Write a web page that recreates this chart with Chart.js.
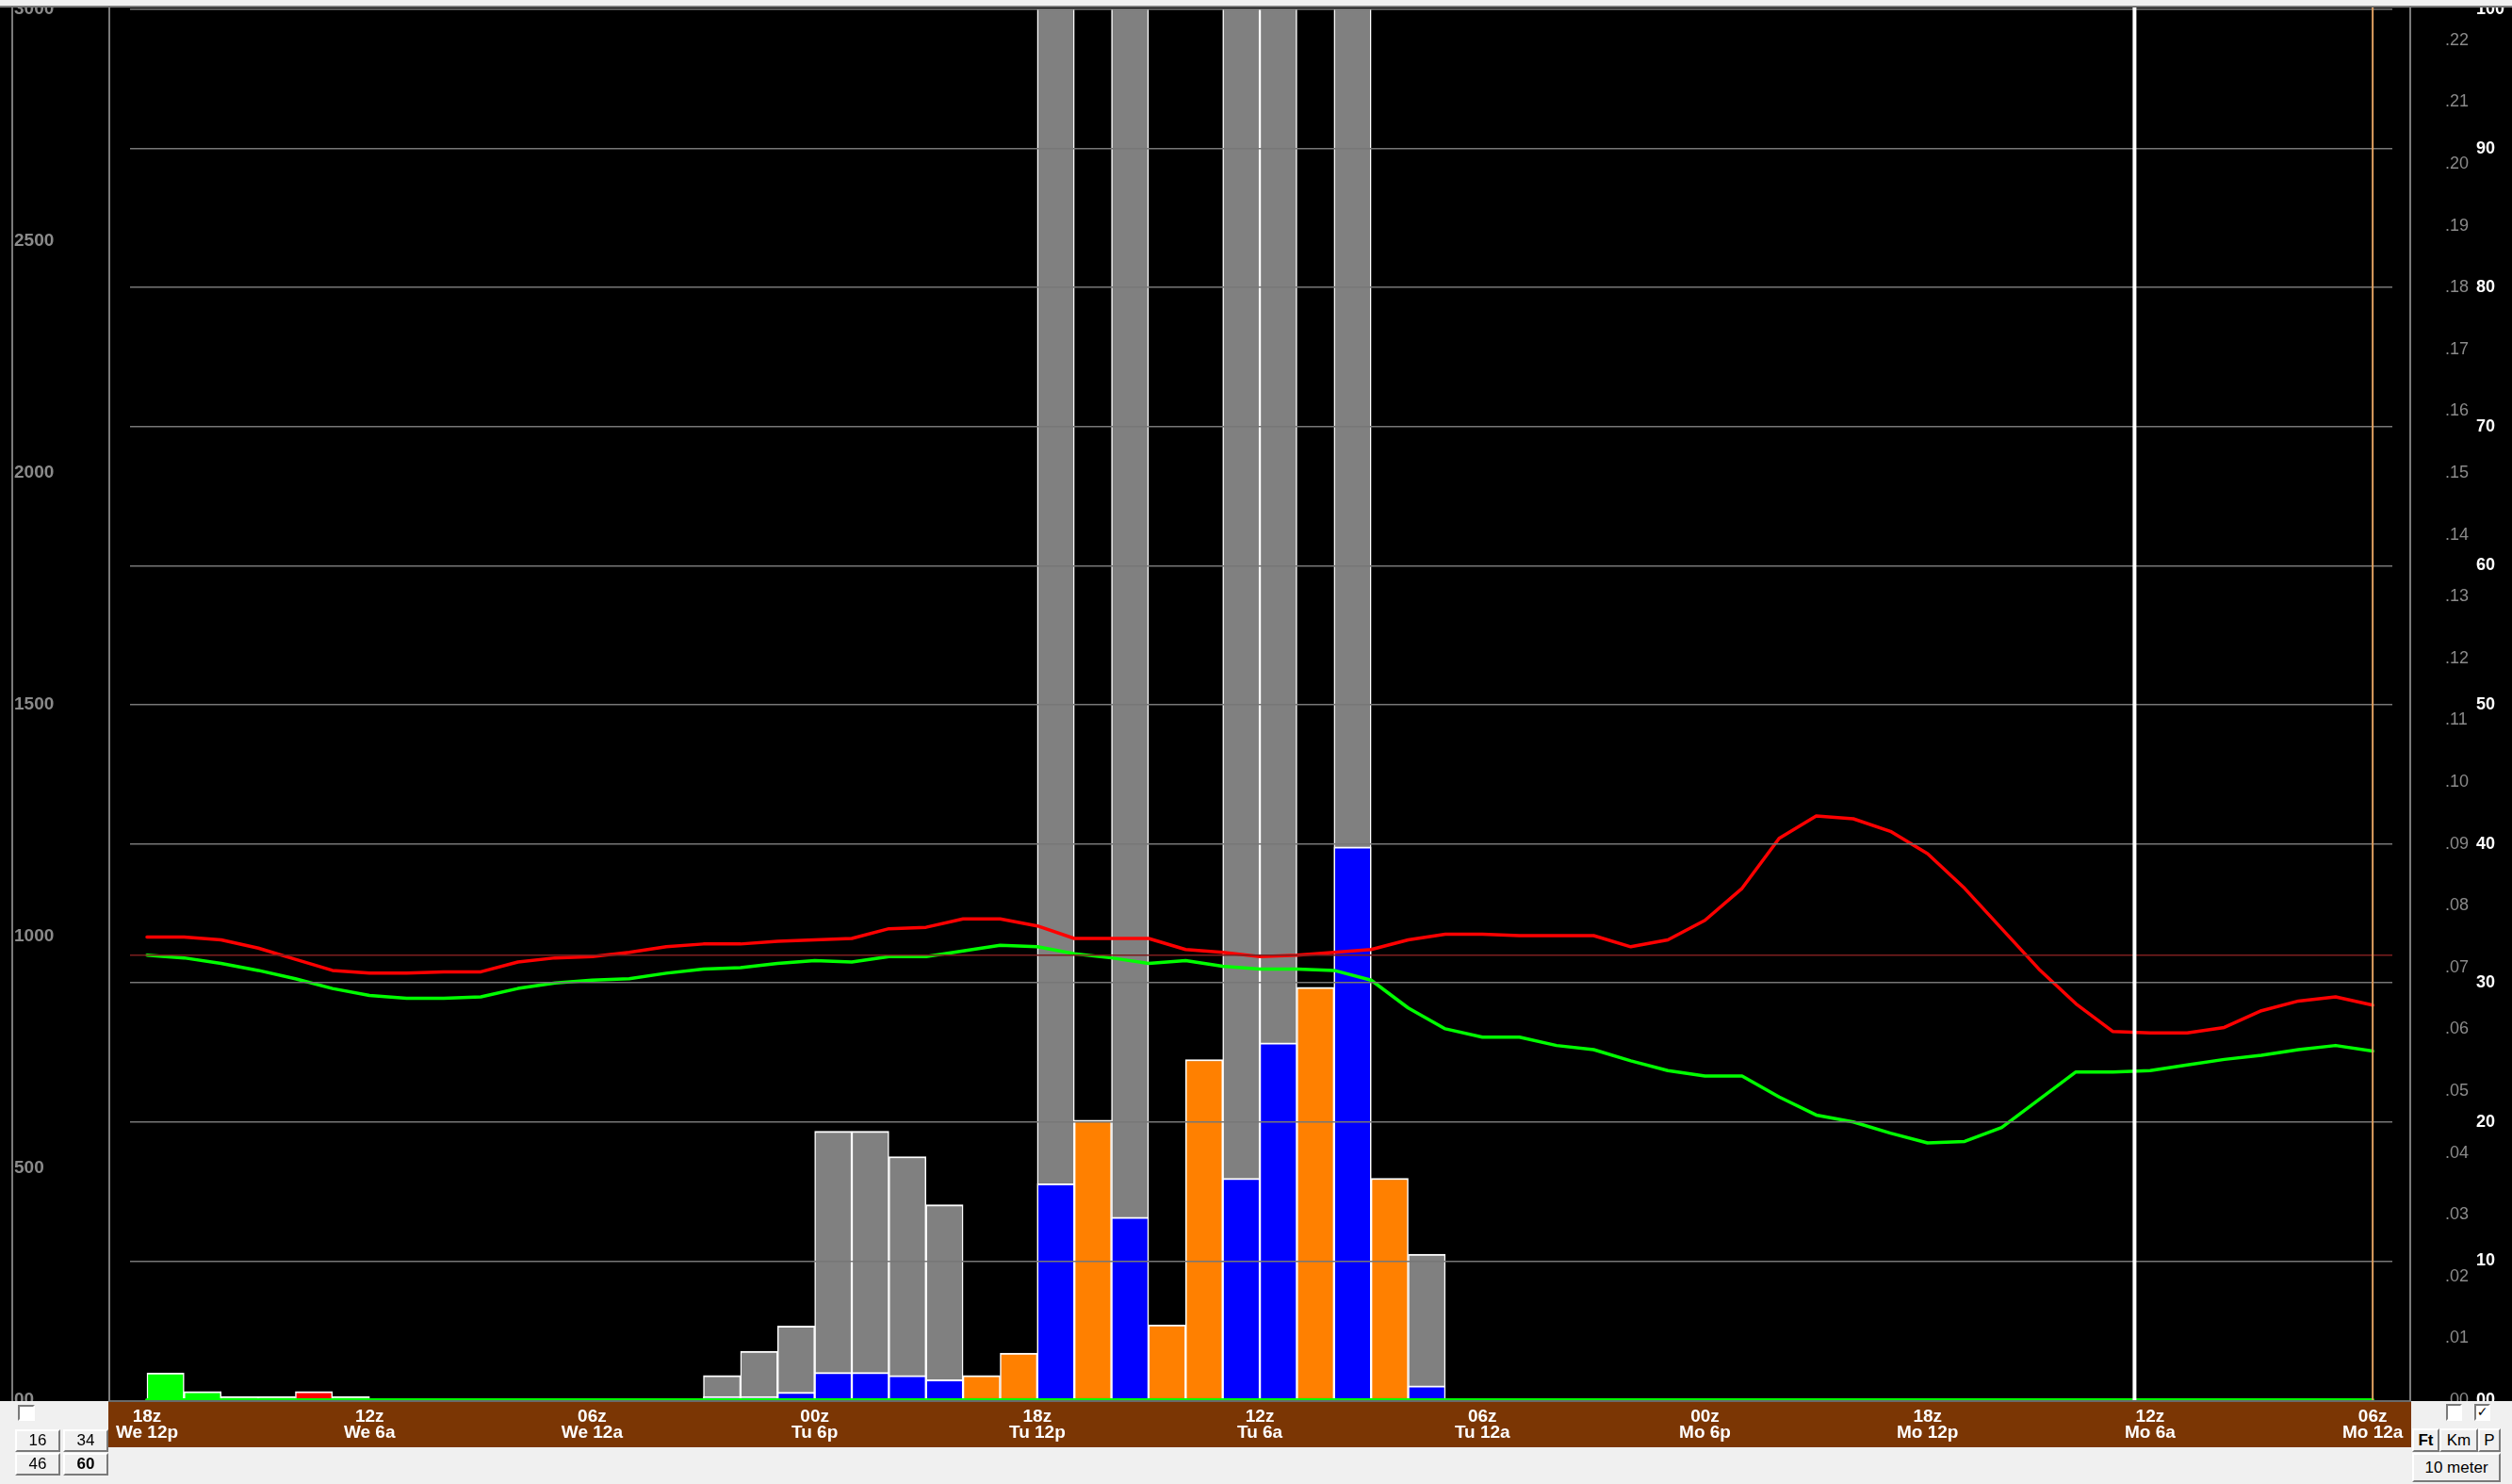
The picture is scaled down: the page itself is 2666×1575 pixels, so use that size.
<!DOCTYPE html>
<html>
<head>
<meta charset="utf-8">
<script src="https://cdn.jsdelivr.net/npm/chart.js@4.4.1/dist/chart.umd.min.js"></script>
<style>
    html, body { margin: 0; padding: 0; background: #f0f0f0; }
    #marco { position: relative; width: 2666px; height: 1575px; overflow: hidden; }
    #grafico { position: absolute; left: 0; top: 0; }
    .boton {
        position: absolute; box-sizing: border-box; background: #f0f0f0;
        border: 2px solid; border-color: #ffffff #7a7a7a #7a7a7a #ffffff;
        font-family: "Liberation Sans", Arial, sans-serif; font-size: 17px; color: #000;
        text-align: center; white-space: nowrap;
    }
    .casilla {
        position: absolute; box-sizing: border-box; background: #ffffff;
        border: 2px solid; border-color: #7a7a7a #ffffff #ffffff #7a7a7a;
        font-family: "DejaVu Sans", sans-serif; font-size: 14px; line-height: 13px; text-align: center; color: #000;
    }
</style>
</head>
<body>
<div id="marco">
    <canvas id="grafico" width="2666" height="1575"></canvas>

    <div class="casilla" style="left:19px;top:1491px;width:18px;height:17px"></div>
    <div class="boton" style="left:16px;top:1517px;width:48px;height:24px;line-height:20px">16</div>
    <div class="boton" style="left:67px;top:1517px;width:48px;height:24px;line-height:20px">34</div>
    <div class="boton" style="left:16px;top:1542px;width:48px;height:24px;line-height:20px">46</div>
    <div class="boton" style="left:67px;top:1542px;width:48px;height:24px;line-height:20px;font-weight:bold">60</div>

    <div class="casilla" style="left:2596px;top:1490px;width:17px;height:18px"></div>
    <div class="casilla" style="left:2626px;top:1490px;width:17px;height:18px">&#10003;</div>
    <div class="boton" style="left:2560px;top:1516px;width:29px;height:25px;line-height:21px;font-weight:bold">Ft</div>
    <div class="boton" style="left:2589px;top:1516px;width:41px;height:25px;line-height:21px">Km</div>
    <div class="boton" style="left:2630px;top:1516px;width:24px;height:25px;line-height:21px">P</div>
    <div class="boton" style="left:2560px;top:1542px;width:94px;height:31px;line-height:27px">10 meter</div>
</div>

<script>
// eje x: horas desde 18z We (izquierda) hasta 06z Mo (derecha)
const horasMarcas = [0, 6, 12, 18, 24, 30, 36, 42, 48, 54, 60];
const etiquetasMarcas = [
    ['18z', 'We 12p'], ['12z', 'We 6a'], ['06z', 'We 12a'], ['00z', 'Tu 6p'],
    ['18z', 'Tu 12p'], ['12z', 'Tu 6a'], ['06z', 'Tu 12a'], ['00z', 'Mo 6p'],
    ['18z', 'Mo 12p'], ['12z', 'Mo 6a'], ['06z', 'Mo 12a']
];

// lineas (escala blanca 0-100), una por hora
const temperatura = [
    33.3, 33.3, 33.1, 32.5, 31.7, 30.9, 30.7, 30.7, 30.8, 30.8,
    31.5, 31.8, 31.9, 32.2, 32.6, 32.8, 32.8, 33.0, 33.1, 33.2,
    33.9, 34.0, 34.6, 34.6, 34.1, 33.2, 33.2, 33.2, 32.4, 32.2,
    31.9, 32.0, 32.2, 32.4, 33.1, 33.5, 33.5, 33.4, 33.4, 33.4,
    32.6, 33.1, 34.5, 36.8, 40.4, 42.0, 41.8, 40.9, 39.3, 36.8,
    33.9, 31.0, 28.5, 26.5, 26.4, 26.4, 26.8, 28.0, 28.7, 29.0,
    28.4
];
const puntoRocio = [
    32.0, 31.8, 31.4, 30.9, 30.3, 29.6, 29.1, 28.9, 28.9, 29.0,
    29.6, 30.0, 30.2, 30.3, 30.7, 31.0, 31.1, 31.4, 31.6, 31.5,
    31.9, 31.9, 32.3, 32.7, 32.6, 32.1, 31.8, 31.4, 31.6, 31.2,
    31.0, 31.0, 30.9, 30.2, 28.2, 26.7, 26.1, 26.1, 25.5, 25.2,
    24.4, 23.7, 23.3, 23.3, 21.8, 20.5, 20.0, 19.2, 18.5, 18.6,
    19.6, 21.6, 23.6, 23.6, 23.7, 24.1, 24.5, 24.8, 25.2, 25.5,
    25.1
];
const lineaBase = [
    0, 0, 0, 0, 0, 0, 0, 0, 0, 0, 0, 0, 0, 0, 0, 0, 0, 0, 0, 0,
    0, 0, 0, 0, 0, 0, 0, 0, 0, 0, 0, 0, 0, 0, 0, 0, 0, 0, 0, 0,
    0, 0, 0, 0, 0, 0, 0, 0, 0, 0, 0, 0, 0, 0, 0, 0, 0, 0, 0, 0,
    0
];

// barras por hora (escala gris .00-.22), null = sin barra
const precipGris = [
    null, null, null, null, null, null, null, null, null, null,
    null, null, null, null, null, 0.0040, 0.0079, 0.0120, 0.0435, 0.0435,
    0.0394, 0.0316, null, null, 0.27, null, 0.25, null, null, 0.31,
    0.26, null, 0.29, null, 0.0236, null, null, null, null, null,
    null, null, null, null, null, null, null, null, null, null,
    null, null, null, null, null, null, null, null, null, null
];
const precipAzul = [
    null, null, null, null, null, null, null, null, null, null,
    null, null, null, null, null, 0.0006, 0.0006, 0.0013, 0.0045, 0.0045,
    0.0040, 0.0033, null, null, 0.0350, null, 0.0296, null, null, 0.0359,
    0.0578, null, 0.0895, null, 0.0023, null, null, null, null, null,
    null, null, null, null, null, null, null, null, null, null,
    null, null, null, null, null, null, null, null, null, null
];
const precipNaranja = [
    null, null, null, null, null, null, null, null, null, null,
    null, null, null, null, null, null, null, null, null, null,
    null, null, 0.0040, 0.0076, null, 0.0453, null, 0.0122, 0.0551, null,
    null, 0.0668, null, 0.0359, null, null, null, null, null, null,
    null, null, null, null, null, null, null, null, null, null,
    null, null, null, null, null, null, null, null, null, null
];
const precipVerde = [
    0.0044, 0.0014, 0.0006, 0.0006, null, 0.0006, null, null, null, null,
    null, null, null, null, null, null, null, null, null, null,
    null, null, null, null, null, null, null, null, null, null,
    null, null, null, null, null, null, null, null, null, null,
    null, null, null, null, null, null, null, null, null, null,
    null, null, null, null, null, null, null, null, null, null
];
const precipRoja = [
    null, null, null, null, 0.0014, null, null, null, null, null,
    null, null, null, null, null, null, null, null, null, null,
    null, null, null, null, null, null, null, null, null, null,
    null, null, null, null, null, null, null, null, null, null,
    null, null, null, null, null, null, null, null, null, null,
    null, null, null, null, null, null, null, null, null, null
];

const horaActual = 53.58;
const horaFinal = 60;
const congelacion = 32;

const FUENTE = '"Liberation Sans", Arial, sans-serif';

function puntosLinea(valores) {
    return valores.map((v, i) => ({ x: i, y: v }));
}

function puntosBarra(valores) {
    const puntos = [];
    valores.forEach((v, i) => { if (v !== null) puntos.push({ x: i + 0.5, y: v }); });
    return puntos;
}

function barra(valores, color, orden) {
    return {
        type: 'bar', data: puntosBarra(valores), yAxisID: 'yP', order: orden,
        backgroundColor: color, borderColor: '#ffffff',
        borderWidth: { top: 2, left: 1.5, right: 1.5, bottom: 0 }, borderSkipped: 'start',
        grouped: false, barPercentage: 1, categoryPercentage: 1
    };
}

function linea(valores, color, ancho) {
    return {
        type: 'line', data: puntosLinea(valores), yAxisID: 'yW', order: 1,
        borderColor: color, borderWidth: ancho, pointRadius: 0, tension: 0,
        borderJoinStyle: 'round', borderCapStyle: 'round'
    };
}

// ancho fijo y sin relleno extra para que el area del grafico quede donde debe
function fijarAncho(ancho) {
    return s => { s.width = ancho; s.paddingTop = 0; s.paddingBottom = 0; };
}

const decoracion = {
    id: 'decoracion',
    beforeDraw(chart) {
        const c = chart.ctx;
        const a = chart.chartArea;
        c.save();
        c.fillStyle = '#f0f0f0';
        c.fillRect(0, 0, chart.width, chart.height);
        c.fillStyle = '#000000';
        c.fillRect(0, a.top - 4, chart.width, a.bottom + 1 - (a.top - 4));
        // banda marron del eje de tiempo
        c.fillStyle = '#7b3604';
        c.fillRect(a.left - 23, a.bottom + 2, 2444, 48);
        c.fillStyle = '#6a6a6a';
        c.fillRect(a.left - 23, a.bottom, 2444, 2);
        c.restore();
    },
    afterDatasetsDraw(chart) {
        const c = chart.ctx;
        const a = chart.chartArea;
        const y = chart.scales.yW.getPixelForValue(congelacion);
        c.save();
        c.strokeStyle = '#7c1e1e';
        c.lineWidth = 1.5;
        c.beginPath();
        c.moveTo(a.left, y);
        c.lineTo(a.right, y);
        c.stroke();
        c.restore();
    },
    afterDraw(chart) {
        const c = chart.ctx;
        const a = chart.chartArea;
        const x = chart.scales.x;
        c.save();
        // linea de hora actual y fin del pronostico
        c.strokeStyle = '#ffffff';
        c.lineWidth = 4;
        c.beginPath();
        c.moveTo(x.getPixelForValue(horaActual), a.top - 4);
        c.lineTo(x.getPixelForValue(horaActual), a.bottom);
        c.stroke();
        c.strokeStyle = '#e0a060';
        c.lineWidth = 2;
        c.beginPath();
        c.moveTo(x.getPixelForValue(horaFinal), a.top - 4);
        c.lineTo(x.getPixelForValue(horaFinal), a.bottom);
        c.stroke();

        // paneles grises que recortan las etiquetas de los extremos
        c.fillStyle = '#f0f0f0';
        c.fillRect(0, 0, chart.width, a.top - 4);
        c.fillRect(0, a.bottom + 1, a.left - 23, chart.height - a.bottom);
        c.fillRect(a.left + 2421, a.bottom + 1, chart.width, chart.height - a.bottom);

        c.fillStyle = '#7a7a7a';
        c.fillRect(0, a.top - 4, chart.width, 2);
        c.fillRect(12, a.top - 4, 2, a.bottom - a.top + 5);
        c.fillRect(a.left - 23, a.top - 4, 2, a.bottom - a.top + 5);
        c.fillRect(a.left + 2419, a.top - 4, 2, a.bottom - a.top + 5);
        c.restore();
    }
};

function renderizarGrafico() {
    const ctx = document.getElementById('grafico').getContext('2d');

    new Chart(ctx, {
        type: 'bar',
        data: {
            datasets: [
                linea(lineaBase, '#00ff00', 4),
                linea(temperatura, '#ff0000', 3.5),
                linea(puntoRocio, '#00ff00', 3.5),
                barra(precipAzul, '#0000ff', 2),
                barra(precipNaranja, '#ff8000', 2),
                barra(precipVerde, '#00ff00', 2),
                barra(precipRoja, '#ff0000', 2),
                barra(precipGris, '#808080', 3)
            ]
        },
        options: {
            responsive: false,
            animation: false,
            layout: { padding: { left: 15, right: 0, top: 10, bottom: 39 } },
            plugins: { legend: { display: false }, tooltip: { enabled: false } },
            scales: {
                x: {
                    type: 'linear', min: -0.457, max: 60.53, offset: false,
                    afterBuildTicks: s => { s.ticks = horasMarcas.map(v => ({ value: v })); },
                    afterFit: s => { s.height = 50; s.paddingLeft = 0; s.paddingRight = 0; },
                    grid: { display: false, drawTicks: false },
                    border: { display: false },
                    ticks: {
                        color: '#ffffff', padding: 9, autoSkip: false, maxRotation: 0,
                        font: { family: FUENTE, size: 19, weight: 'bold', lineHeight: 0.9 },
                        callback: (v, i) => etiquetasMarcas[i]
                    }
                },
                yL: {
                    position: 'left', min: 0, max: 3000,
                    afterFit: fijarAncho(123),
                    grid: { display: false, drawTicks: false },
                    border: { display: false },
                    ticks: {
                        stepSize: 500, color: '#8a8a8a', crossAlign: 'far', padding: 0,
                        font: { family: FUENTE, size: 19, weight: 'bold', lineHeight: 1 },
                        callback: v => v === 0 ? '00' : String(v)
                    }
                },
                yP: {
                    position: 'right', weight: 0, min: 0, max: 0.225,
                    afterFit: fijarAncho(86),
                    grid: { display: false, drawTicks: false },
                    border: { display: false },
                    ticks: {
                        stepSize: 0.01, includeBounds: false, color: '#8a8a8a', padding: 56,
                        font: { family: FUENTE, size: 18, lineHeight: 1 },
                        callback: v => '.' + v.toFixed(2).split('.')[1]
                    }
                },
                yW: {
                    position: 'right', weight: 1, min: 0, max: 100,
                    afterFit: fijarAncho(41),
                    grid: {
                        z: 1, drawTicks: false, lineWidth: 1.5,
                        color: c => c.tick && c.tick.value === 0 ? 'rgba(0,0,0,0)' : '#777777'
                    },
                    border: { display: false },
                    ticks: {
                        stepSize: 10, color: '#ffffff', padding: 3,
                        font: { family: FUENTE, size: 18, weight: 'bold', lineHeight: 1 },
                        callback: v => v === 0 ? '00' : String(v)
                    }
                }
            }
        },
        plugins: [decoracion]
    });
}

renderizarGrafico();
</script>
</body>
</html>
